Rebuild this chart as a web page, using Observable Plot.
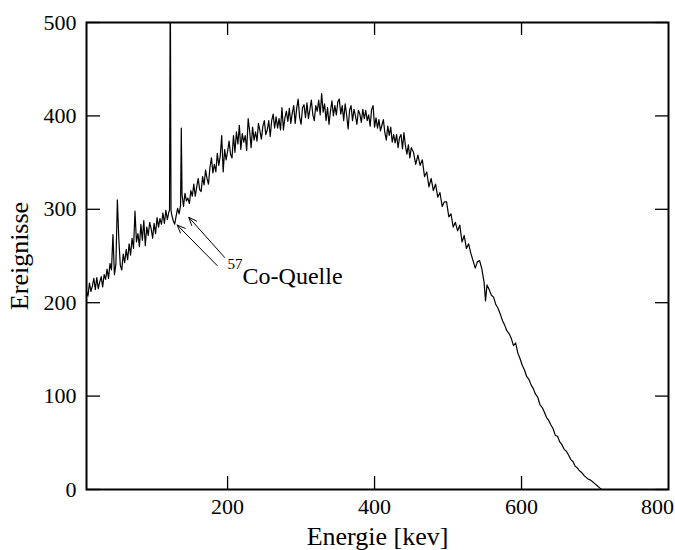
<!DOCTYPE html>
<html>
<head>
<meta charset="utf-8">
<script src="https://cdn.jsdelivr.net/npm/d3@7"></script>
<script src="https://cdn.jsdelivr.net/npm/@observablehq/plot@0.6"></script>
<style>
  html, body { margin: 0; padding: 0; background: #fff; }
  #chart { width: 675px; height: 550px; }
</style>
</head>
<body>
<div id="chart"></div>
<script>
// Energy of each channel [keV]
const energies = [
  8,10,12,14,16,18,20,22,24,26,
  28,30,32,34,36,38,40,42,44,46,
  48,50,52,54,56,58,60,62,64,66,
  68,70,72,74,76,78,80,82,84,86,
  88,90,92,94,96,98,100,102,104,106,
  108,110,112,114,116,118,120,121,122,123,124,126,
  128,130,132,134,136,137,138,140,142,144,146,
  148,150,152,154,156,158,160,162,164,166,
  168,170,172,174,176,178,180,182,184,186,
  188,190,192,194,196,198,200,202,204,206,
  208,210,212,214,216,218,220,222,224,226,
  228,230,232,234,236,238,240,242,244,246,
  248,250,252,254,256,258,260,262,264,266,
  268,270,272,274,276,278,280,282,284,286,
  288,290,292,294,296,298,300,302,304,306,
  308,310,312,314,316,318,320,322,324,326,
  328,330,332,334,336,338,340,342,344,346,
  348,350,352,354,356,358,360,362,364,366,
  368,370,372,374,376,378,380,382,384,386,
  388,390,392,394,396,398,400,402,404,406,
  408,410,412,414,416,418,420,422,424,426,
  428,430,432,434,436,438,440,442,444,446,
  448,450,
  453,456,459,462,465,468,471,474,477,480,
  483,486,489,492,495,498,501,504,507,510,
  513,516,519,522,525,528,531,534,537,540,
  543,546,549,551,553,556,559,562,565,568,
  571,574,577,580,583,586,589,592,595,598,
  601,604,607,610,613,616,619,622,625,628,
  631,634,637,640,643,646,649,652,655,658,
  661,664,667,670,673,676,679,682,685,688,
  691,694,697,700,703,706,709
];

// Events (Ereignisse) per channel
const counts = [
  212,207,221,212,218,226,214,227,215,222,
  228,217,230,225,236,226,242,235,273,230,
  241,310,268,240,235,252,243,257,246,263,
  251,269,258,298,265,274,260,284,267,288,
  261,281,272,286,279,269,285,274,291,281,
  290,284,296,285,299,289,297,299,560,299,294,288,
  284,293,301,295,304,387,316,303,317,309,312,
  306,320,314,327,314,324,333,321,319,335,
  326,342,333,327,345,355,339,348,340,360,
  347,357,379,340,364,353,362,373,359,355,
  379,361,383,370,390,364,381,372,379,363,
  397,384,366,388,374,383,373,392,384,375,
  389,395,380,385,395,378,395,402,387,399,
  387,397,385,409,385,398,405,394,408,392,
  403,411,392,408,418,399,391,409,412,398,
  414,397,407,417,401,395,411,405,417,401,
  424,404,413,395,409,391,405,416,400,411,
  401,415,418,402,411,395,413,401,386,406,
  411,395,407,400,391,406,402,393,407,397,
  406,395,401,389,407,411,388,398,387,396,
  384,390,396,382,374,389,379,388,372,380,
  371,380,366,377,380,365,382,368,359,369,
  355,366,
  361,348,358,347,353,335,340,324,333,320,
  327,313,318,303,308,308,292,295,281,286,
  277,283,265,272,258,263,253,245,237,244,
  245,236,222,202,219,214,208,206,198,194,
  188,181,176,170,167,162,154,157,146,140,
  133,128,121,118,112,108,102,99,91,88,
  83,77,74,69,65,58,57,51,48,43,
  41,37,32,30,25,23,20,18,15,13,
  11,10,8,6,4,2,0
];

const xTicks = [200, 400, 600];
const xTickLast = [800];
const yTicks = [0, 100, 200, 300, 400, 500];
const xLabel = "Energie [kev]";
const yLabel = "Ereignisse";

// 57Co source annotation: arrow tails and heads (keV, events)
const arrowFromE = [185.9, 195.8];
const arrowFromC = [239.7, 248.6];
const arrowToE = [131.4, 147.2];
const arrowToC = [283.2, 291.4];
const noteE = [200];
const noteC = [220];
const noteSup = ["57"];
const noteText = ["Co-Quelle"];

const n = Math.min(energies.length, counts.length);
const spectrum = energies.slice(0, n).map((e, i) => ({E: e, c: counts[i]}));
const arrows = arrowFromE.map((_, i) => ({x1: arrowFromE[i], y1: arrowFromC[i], x2: arrowToE[i], y2: arrowToC[i]}));
const note = noteE.map((e, i) => ({E: e, c: noteC[i], sup: noteSup[i], t: noteText[i]}));

const W = 675, H = 550, mL = 86, mR = 7, mT = 22, mB = 61;
const fw = W - mL - mR, fh = H - mT - mB;

const chart = Plot.plot({
  width: W, height: H,
  marginLeft: mL, marginRight: mR, marginTop: mT, marginBottom: mB,
  style: {fontFamily: "'Liberation Serif', 'Times New Roman', serif", fontSize: "22px", background: "#fff", color: "#000", overflow: "visible"},
  x: {domain: [8, 800]},
  y: {domain: [0, 500]},
  marks: [
    Plot.line(spectrum, {x: "E", y: "c", stroke: "#000", strokeWidth: 1.2, clip: true}),
    Plot.frame({stroke: "#000", strokeWidth: 2}),
    // inward ticks
    Plot.tickY(yTicks, {y: d => d, insetRight: fw - 14, stroke: "#000", strokeWidth: 1.3}),
    Plot.tickY(yTicks, {y: d => d, insetLeft: fw - 13, stroke: "#000", strokeWidth: 1.3}),
    Plot.tickX(xTicks, {x: d => d, insetBottom: fh - 13, stroke: "#000", strokeWidth: 1.3}),
    Plot.tickX(xTicks, {x: d => d, insetTop: fh - 13, stroke: "#000", strokeWidth: 1.3}),
    // tick labels
    Plot.axisY({ticks: yTicks, tickSize: 0, tickPadding: 10, label: null, fontSize: 22}),
    Plot.axisX({ticks: xTicks, tickSize: 0, tickPadding: 9, label: null, fontSize: 22}),
    Plot.axisX({ticks: xTickLast, tickSize: 0, tickPadding: 9, label: null, fontSize: 22, dx: -11}),
    // axis titles
    Plot.text([xLabel], {frameAnchor: "bottom", textAnchor: "middle", lineAnchor: "bottom", dy: 55, fontSize: 26}),
    Plot.text([yLabel], {frameAnchor: "left", textAnchor: "middle", lineAnchor: "bottom", rotate: -90, dx: -59, fontSize: 26}),
    // annotation
    Plot.arrow(arrows, {x1: "x1", y1: "y1", x2: "x2", y2: "y2", stroke: "#000", strokeWidth: 1, headLength: 13, headAngle: 45}),
    Plot.text(note, {x: "E", y: "c", text: "sup", textAnchor: "start", lineAnchor: "bottom", dy: -15, fontSize: 15}),
    Plot.text(note, {x: "E", y: "c", text: "t", textAnchor: "start", lineAnchor: "bottom", dx: 15, fontSize: 24})
  ]
});
document.getElementById("chart").appendChild(chart);
</script>
</body>
</html>
